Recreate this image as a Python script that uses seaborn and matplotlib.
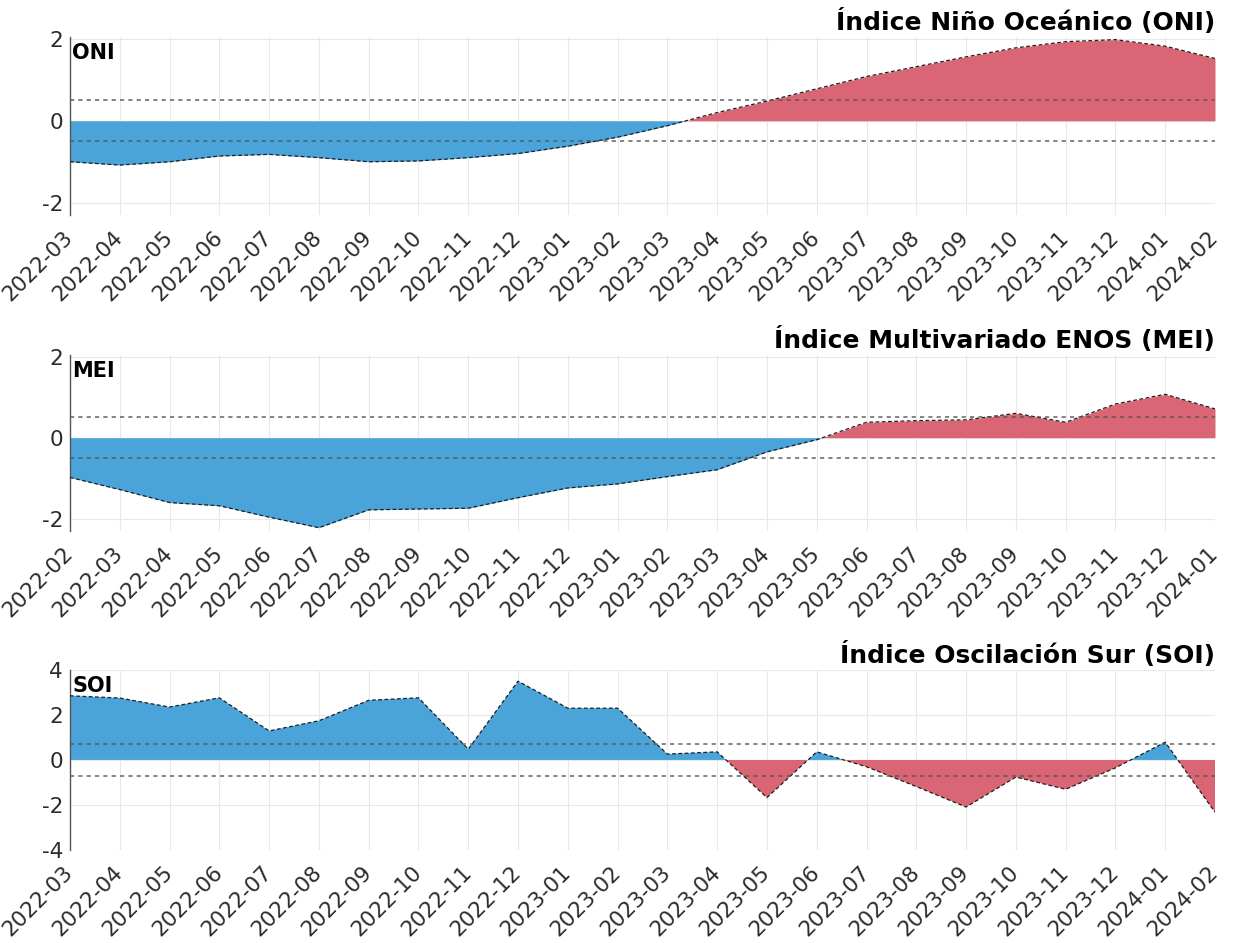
import numpy as np
import pandas as pd
import matplotlib
matplotlib.use("Agg")
import matplotlib.pyplot as plt
import seaborn as sns

# ---- data -------------------------------------------------------------
months_oni = ["2022-03", "2022-04", "2022-05", "2022-06", "2022-07", "2022-08",
              "2022-09", "2022-10", "2022-11", "2022-12", "2023-01", "2023-02",
              "2023-03", "2023-04", "2023-05", "2023-06", "2023-07", "2023-08",
              "2023-09", "2023-10", "2023-11", "2023-12", "2024-01", "2024-02"]
months_mei = ["2022-02", "2022-03", "2022-04", "2022-05", "2022-06", "2022-07",
              "2022-08", "2022-09", "2022-10", "2022-11", "2022-12", "2023-01",
              "2023-02", "2023-03", "2023-04", "2023-05", "2023-06", "2023-07",
              "2023-08", "2023-09", "2023-10", "2023-11", "2023-12", "2024-01"]
months_soi = months_oni

oni = [-1.0, -1.08, -1.0, -0.86, -0.82, -0.9, -1.0, -0.98, -0.9, -0.8,
       -0.62, -0.4, -0.12, 0.2, 0.48, 0.78, 1.08, 1.32, 1.56, 1.78,
       1.93, 1.98, 1.82, 1.52]
mei = [-0.98, -1.28, -1.6, -1.68, -1.96, -2.22, -1.78, -1.76, -1.74, -1.48,
       -1.24, -1.14, -0.96, -0.79, -0.35, -0.05, 0.38, 0.42, 0.44, 0.6,
       0.38, 0.83, 1.07, 0.71]
soi = [2.85, 2.75, 2.35, 2.76, 1.29, 1.74, 2.65, 2.76, 0.48, 3.5,
       2.3, 2.3, 0.26, 0.36, -1.67, 0.36, -0.3, -1.18, -2.09, -0.76,
       -1.3, -0.35, 0.79, -2.32]

titles = ["Índice Niño Oceánico (ONI)",
          "Índice Multivariado ENOS (MEI)",
          "Índice Oscilación Sur (SOI)"]
short_names = ["ONI", "MEI", "SOI"]
thresholds = [0.5, 0.5, 0.7]
y_limits = [(-2.3, 2.05), (-2.3, 2.05), (-4, 4)]
y_ticks = [[-2, 0, 2], [-2, 0, 2], [-4, -2, 0, 2, 4]]
# sign of the index that corresponds to the warm (El Niño) phase
warm_sign = [1, 1, -1]

# ---- style ------------------------------------------------------------
sns.set_theme(style="white")
plt.rcParams["font.family"] = ["DejaVu Sans"]

WARM_COLOR = "#DA6675"
COLD_COLOR = "#4AA4DA"
TEXT_COLOR = "#2b2b2b"

fig = plt.figure(figsize=(12.5, 9.43), dpi=100)
boxes = [[0.056, 0.772, 0.916, 0.189],
         [0.056, 0.437, 0.916, 0.187],
         [0.056, 0.0986, 0.916, 0.191]]

series = [(months_oni, oni), (months_mei, mei), (months_soi, soi)]

for box, (labels, vals), title, name, thr, ylim, yt, ws in zip(
        boxes, series, titles, short_names, thresholds, y_limits, y_ticks,
        warm_sign):
    ax = fig.add_axes(box)
    x = np.arange(len(labels))
    y = np.asarray(vals, dtype=float)
    df = pd.DataFrame({"x": x, "valor": y})

    pos_color = WARM_COLOR if ws > 0 else COLD_COLOR
    neg_color = COLD_COLOR if ws > 0 else WARM_COLOR

    # light grid behind everything
    ax.set_axisbelow(True)
    ax.grid(True, color="#e8e8e8", linewidth=0.8, linestyle="-")

    # positive / negative areas
    ax.fill_between(x, y, 0, where=y >= 0, interpolate=True,
                    color=pos_color, linewidth=0, zorder=2)
    ax.fill_between(x, y, 0, where=y <= 0, interpolate=True,
                    color=neg_color, linewidth=0, zorder=2)

    # outline of the index
    sns.lineplot(data=df, x="x", y="valor", ax=ax, color="#1e1e1e",
                 linewidth=0.9, linestyle=(0, (3, 2)), zorder=3,
                 legend=False)

    # threshold lines
    for t in (thr, -thr):
        ax.axhline(t, color="#555555", alpha=0.85, linewidth=1.2,
                   linestyle=(0, (2.5, 2.5)), zorder=4)

    ax.set_xlim(x[0], x[-1])
    ax.set_ylim(*ylim)
    ax.set_xticks(x)
    ax.set_xticklabels(labels, rotation=45, ha="right", va="center",
                       rotation_mode="anchor", fontsize=15.5,
                       color=TEXT_COLOR)
    ax.set_yticks(yt)
    ax.set_yticklabels([str(v) for v in yt], fontsize=15.5, color=TEXT_COLOR)
    ax.tick_params(axis="both", direction="in", length=7, width=0.9,
                   color="#555555")
    ax.tick_params(axis="x", pad=14)
    ax.tick_params(axis="y", pad=5)
    ax.set_xlabel("")
    ax.set_ylabel("")

    for side in ("top", "right", "bottom"):
        ax.spines[side].set_visible(False)
    ax.spines["left"].set_color("#555555")
    ax.spines["left"].set_linewidth(1.0)

    ax.set_title(title, loc="right", fontsize=18, fontweight="bold",
                 color="black", pad=5)
    ax.text(0.002, 0.965, name, transform=ax.transAxes, ha="left", va="top",
            fontsize=15, fontweight="bold", color="black", zorder=5)

fig.savefig("out.png", dpi=100)
